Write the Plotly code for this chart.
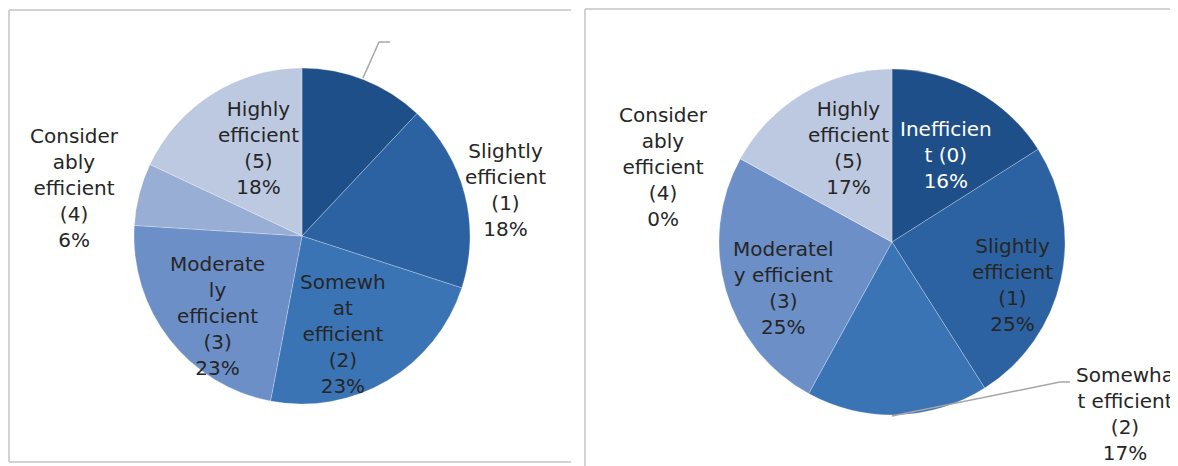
import plotly.graph_objects as go

W, H = 1178, 466
OFF = 8  # page body margin offset

# ---- data ----
categories = ["Inefficient (0)", "Slightly efficient (1)", "Somewhat efficient (2)",
              "Moderately efficient (3)", "Considerably efficient (4)", "Highly efficient (5)"]
left_values = [12, 18, 23, 23, 6, 18]
right_values = [16, 25, 17, 25, 0, 17]
# wrapped label text as shown in each chart
left_wrapped = [None, "Slightly<br>efficient<br>(1)", "Somewh<br>at<br>efficient<br>(2)",
                "Moderate<br>ly<br>efficient<br>(3)", "Consider<br>ably<br>efficient<br>(4)",
                "Highly<br>efficient<br>(5)"]
right_wrapped = ["Inefficien<br>t (0)", "Slightly<br>efficient<br>(1)", "Somewha<br>t efficient<br>(2)",
                 "Moderatel<br>y efficient<br>(3)", "Consider<br>ably<br>efficient<br>(4)",
                 "Highly<br>efficient<br>(5)"]
colors = ["#1F4F88", "#2C62A1", "#3B74B5", "#6C8FC8", "#98AED4", "#BDC9E0"]

# ---- layout helpers (screen pixel -> paper) ----
def px(x):
    return (x - OFF) / W

def py(y):
    return 1 - (y - OFF) / H

fig = go.Figure()

def add_pie(values, cx, cy, r):
    fig.add_trace(go.Pie(
        labels=categories, values=values, sort=False, direction="clockwise", rotation=0,
        marker=dict(colors=colors, line=dict(color="rgba(255,255,255,0.25)", width=1)),
        textinfo="none", hoverinfo="label+percent", showlegend=False,
        domain=dict(x=[px(cx - r), px(cx + r)], y=[py(cy + r), py(cy - r)]),
    ))

add_pie(left_values, 302, 236, 168)
add_pie(right_values, 892, 242, 173)

# label positions (screen pixel centers)
left_pos = [None, (505, 190), (343, 334), (217, 316), (74, 188), (258, 148)]
right_pos = [(946, 155), (1012, 285), (1125, 414), (783, 288), (663, 167), (848, 148)]

annotations = []
def add_labels(wrapped, values, pos, white_idx=()):
    for i, (txt, v, p) in enumerate(zip(wrapped, values, pos)):
        if txt is None or p is None:
            continue
        annotations.append(dict(
            x=px(p[0]), y=py(p[1]), xref="paper", yref="paper",
            text=f"{txt}<br>{v}%", showarrow=False, align="center",
            xanchor="center", yanchor="middle",
            font=dict(family="DejaVu Sans", size=20,
                      color="white" if i in white_idx else "#262626"),
        ))

add_labels(left_wrapped, left_values, left_pos)
add_labels(right_wrapped, right_values, right_pos, white_idx=(0,))

line_col = "#D3D3D3"
shapes = []
def seg(x0, y0, x1, y1, color=line_col, width=2):
    shapes.append(dict(type="line", xref="paper", yref="paper",
                       x0=px(x0), y0=py(y0), x1=px(x1), y1=py(y1),
                       line=dict(color=color, width=width)))

# panel borders
seg(9, 10, 571, 10)
seg(9, 10, 9, 462)
seg(9, 462, 571, 462)
seg(585, 9, 1172, 9)
seg(585, 9, 585, 470)

# leader lines
lead = "#A6A6A6"
seg(363, 78, 379, 42, lead, 1.5)
seg(379, 42, 390, 42, lead, 1.5)
seg(892, 416, 1060, 382, lead, 1.5)
seg(1060, 382, 1070, 382, lead, 1.5)

fig.update_layout(
    width=W, height=H, margin=dict(l=0, r=0, t=0, b=0),
    paper_bgcolor="white", plot_bgcolor="white",
    annotations=annotations, shapes=shapes,
)

fig.write_html("out.html")
